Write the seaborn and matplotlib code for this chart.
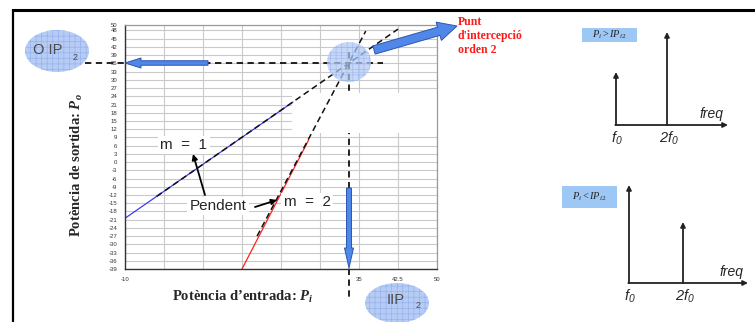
import numpy as np
import pandas as pd
import matplotlib
matplotlib.use("Agg")
import matplotlib.pyplot as plt
import seaborn as sns
from matplotlib.patches import Ellipse, FancyArrow, Rectangle

# Second-order intercept point (dBm)
iip2 = 33.0
oip2 = 36.0

# Fundamental output (slope m = 1): measured trace and straight-line fit
pin_fund = [-10.0, 22.3]
pout_fund = [-20.5, 21.9]
pin_fund_fit = [-3.9, 42.5]
pout_fund_fit = [-12.5, 48.5]

# Second-harmonic output (slope m = 2): measured trace and straight-line fit
pin_h2 = [12.5, 25.3]
pout_h2 = [-39.0, 8.0]
pin_h2_fit = [15.4, 36.3]
pout_h2_fit = [-27.0, 47.8]

# Axis ticks
y_ticks = list(range(-39, 49, 3)) + [50]
x_ticks = [-10, -2.5, 5, 12.5, 20, 27.5, 35, 42.5, 50]
x_tick_labels = ["-10", "", "", "", "", "", "35", "42.5", "50"]

fund = pd.DataFrame({"Pi": pin_fund, "Po": pout_fund})
fund_fit = pd.DataFrame({"Pi": pin_fund_fit, "Po": pout_fund_fit})
h2 = pd.DataFrame({"Pi": pin_h2, "Po": pout_h2})
h2_fit = pd.DataFrame({"Pi": pin_h2_fit, "Po": pout_h2_fit})

sns.set_style("white")
plt.rcParams["font.family"] = ["Liberation Sans", "DejaVu Sans"]
plt.rcParams["mathtext.fontset"] = "custom"
plt.rcParams["mathtext.rm"] = "Liberation Serif"
plt.rcParams["mathtext.it"] = "Liberation Serif:italic"
plt.rcParams["mathtext.bf"] = "Liberation Serif:bold"
plt.rcParams["mathtext.bfit"] = "Liberation Serif:italic:bold"
plt.rcParams["mathtext.sf"] = "Liberation Sans:italic"
plt.rcParams["hatch.linewidth"] = 0.5

W, H = 755, 322
fig = plt.figure(figsize=(W / 100, H / 100), dpi=100)
fig.patch.set_facecolor("white")

# ---- main transfer-characteristic plot ----
ax = fig.add_axes([125 / W, 1 - 269 / H, 312 / W, 244 / H])
ax.set_xlim(-10, 50)
ax.set_ylim(-39, 50)
ax.set_xticks(x_ticks)
ax.set_xticklabels(x_tick_labels)
ax.set_yticks(y_ticks)
ax.set_yticklabels([str(v) for v in y_ticks])
ax.set_xticks(np.arange(-10, 50.1, 2.5), minor=True)
ax.set_yticks(np.arange(-39, 50.1, 1.5), minor=True)
ax.grid(True, which="major", color="#c9c9c9", lw=0.8)
ax.set_axisbelow(True)
ax.tick_params(which="major", direction="out", length=3, width=0.6,
               labelsize=4.3, labelcolor="#333333", color="#333333", pad=2.5)
ax.tick_params(which="minor", direction="out", length=1.5, width=0.5, color="#333333")
for side in ("left", "bottom"):
    ax.spines[side].set_color("#333333")
    ax.spines[side].set_linewidth(1.0)
for side in ("top", "right"):
    ax.spines[side].set_color("#9a9a9a")
    ax.spines[side].set_linewidth(0.9)

dash = (0, (3.5, 2.5))
# intercept guide lines
ax.plot([-17.7, 39.6], [oip2, oip2], color="#111111", lw=1.3, ls=dash,
        clip_on=False, zorder=0.8)
ax.plot([iip2, iip2], [40.2, -49.6], color="#111111", lw=1.3, ls=dash,
        clip_on=False, zorder=0.8)
ax.add_patch(Rectangle((22.1, 10.6), 27.9, 14.6, fc="white", ec="none", zorder=1))

sns.lineplot(data=fund, x="Pi", y="Po", ax=ax, color="#3c3cf0", lw=0.9, zorder=2.5)
sns.lineplot(data=h2, x="Pi", y="Po", ax=ax, color="#ff2020", lw=0.9, zorder=2.5)
sns.lineplot(data=fund_fit, x="Pi", y="Po", ax=ax, color="#111111", lw=1.1,
             linestyle=(0, (4, 2.5)), zorder=3)
sns.lineplot(data=h2_fit, x="Pi", y="Po", ax=ax, color="#111111", lw=1.1,
             linestyle=(0, (4, 2.5)), zorder=3)

ax.set_xlabel(r"Potència d’entrada: $\mathbfit{P}_{\mathbfit{i}}$",
              family="Liberation Serif", fontweight="bold", fontsize=10.5)
ax.set_ylabel(r"Potència de sortida: $\mathbfit{P}_{\mathbfit{o}}$",
              family="Liberation Serif", fontweight="bold", fontsize=10.5)
ax.xaxis.set_label_coords((243 - 125) / 312, -(289 - 269) / 244)
ax.yaxis.set_label_coords((85 - 125) / 312, (269 - 165) / 244)

# ---- overlay in pixel units for callouts and spectra ----
ov = fig.add_axes([0, 0, 1, 1], zorder=5)
ov.set_xlim(0, W)
ov.set_ylim(H, 0)
ov.axis("off")
ov.patch.set_alpha(0)

# frame
ov.plot([12.5, W], [10, 10], color="black", lw=2.2, solid_capstyle="butt")
ov.plot([12.5, 12.5], [9, H], color="black", lw=1.6, solid_capstyle="butt")

def blob(cx, cy, rx, ry, alpha):
    ov.add_patch(Ellipse((cx, cy), 2 * rx, 2 * ry, fc="#b0c7f4", ec="none", alpha=alpha))
    ov.add_patch(Ellipse((cx, cy), 2 * rx, 2 * ry, fc="none", ec="#93b0ec", lw=0,
                         hatch="+++", alpha=alpha))

blob(57, 51, 32, 21, 0.9)
blob(349, 62, 22, 20, 0.7)
blob(397, 303, 32, 20, 0.9)

ov.text(48, 50, "O IP", ha="center", va="center", fontsize=10.5, color="#4a4a4a")
ov.text(75, 57, "2", ha="center", va="center", fontsize=6.5, color="#4a4a4a")
ov.text(396, 300, "IIP", ha="center", va="center", fontsize=10.5, color="#4a4a4a")
ov.text(418, 306, "2", ha="center", va="center", fontsize=6.5, color="#4a4a4a")

arrow_kw = dict(length_includes_head=True, fc="#5088ea", ec="#2b55b0", lw=0.7)
ov.add_patch(FancyArrow(208, 63, -83, 0, width=4.5, head_width=10, head_length=16, **arrow_kw))
ov.add_patch(FancyArrow(349, 188, 0, 80, width=5, head_width=9, head_length=20, **arrow_kw))
ov.add_patch(FancyArrow(374, 50, 83, -24, width=8.5, head_width=19, head_length=19, **arrow_kw))

ov.text(458, 16, "Punt\nd'intercepció\norden 2", ha="left", va="top",
        family="Liberation Serif", fontweight="bold", fontsize=8.5,
        color="#ff1a1a", linespacing=1.2)

lbl_box = dict(boxstyle="square,pad=0.15", fc="white", ec="none")
ov.text(184, 145, "m  =  1", ha="center", va="center", fontsize=11, bbox=lbl_box)
ov.text(218, 206, "Pendent", ha="center", va="center", fontsize=11, bbox=lbl_box)
ov.text(307, 202, "m  =  2", ha="center", va="center", fontsize=11, bbox=lbl_box)
pointer = dict(arrowstyle="-|>", color="black", lw=1.3, mutation_scale=8,
               shrinkA=0, shrinkB=0)
ov.annotate("", xy=(193, 154), xytext=(205, 195), arrowprops=pointer)
ov.annotate("", xy=(277, 200), xytext=(255, 207), arrowprops=pointer)

# ---- spectra for the two input-power regimes ----
spec = dict(arrowstyle="-|>", color="#222222", lw=1.3, mutation_scale=7,
            shrinkA=0, shrinkB=0)

def spectrum(x0, x2, xend, ybase, ytop0, ytop2, box, cond):
    ov.annotate("", xy=(x0, ytop0), xytext=(x0, ybase), arrowprops=spec)
    ov.annotate("", xy=(x2, ytop2), xytext=(x2, ybase), arrowprops=spec)
    ov.annotate("", xy=(xend, ybase), xytext=(x0 - 0.7, ybase), arrowprops=spec)
    ov.text(xend - 16, ybase - 11, "freq", ha="center", va="center",
            fontsize=10, style="italic")
    ov.text(x0 + 1, ybase + 13, r"$\mathsf{f_0}$", ha="center", va="center", fontsize=10.5)
    ov.text(x2 + 2, ybase + 13, r"$\mathsf{2f_0}$", ha="center", va="center", fontsize=10.5)
    bx, by, bw, bh = box
    ov.add_patch(Rectangle((bx, by), bw, bh, fc="#9dc7f4", ec="none"))
    ov.text(bx + bw / 2, by + bh / 2, cond, ha="center", va="center", fontsize=7.5)

spectrum(616, 667, 728, 125, 72, 32, (582, 28, 55, 14), r"$P_i > IP_{i2}$")
spectrum(629, 683, 748, 283, 185, 222, (562, 186, 55, 22), r"$P_i < IP_{i2}$")

fig.savefig("out.png", dpi=100)
